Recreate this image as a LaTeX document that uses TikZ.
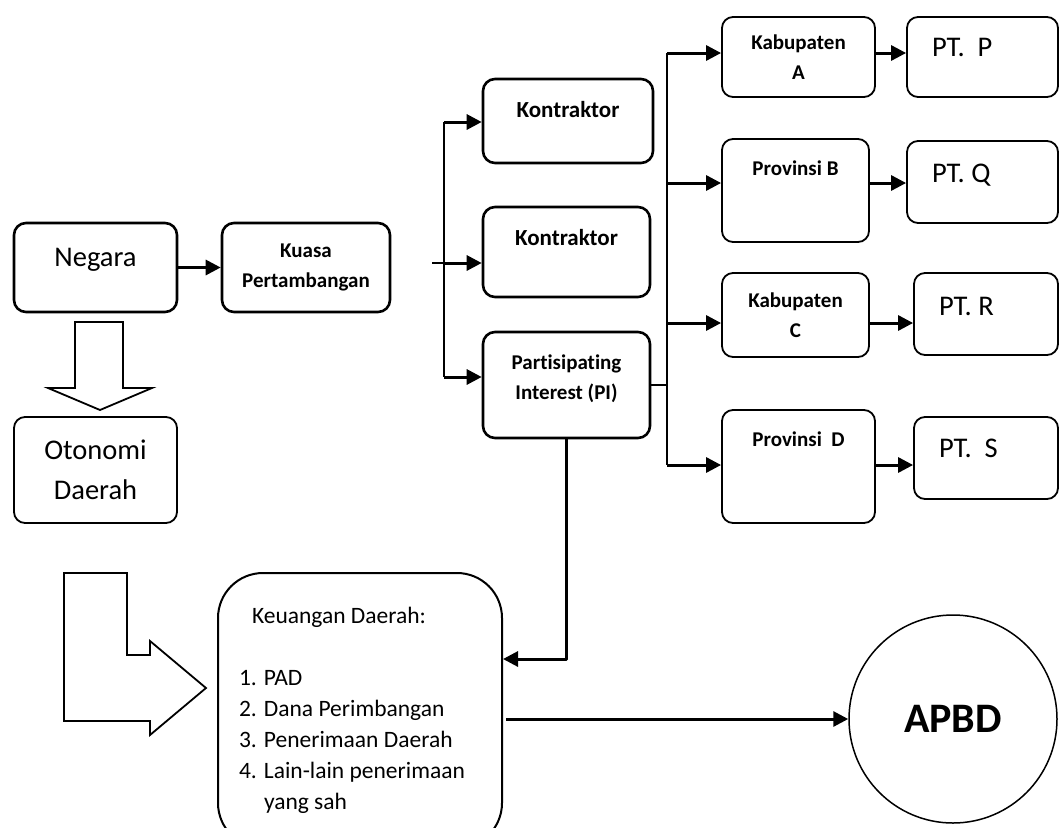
\documentclass[tikz,border=0pt]{standalone}
\usepackage{fontspec}
\setmainfont{Carlito}[Ligatures=NoCommon]
\usetikzlibrary{arrows.meta}

\begin{document}
\begin{tikzpicture}[x=1pt, y=-1pt, line join=round, >={Triangle[length=15pt,width=15pt]},
  boxA/.style={draw, rounded corners=12pt, line width=2.6pt, inner sep=0pt, align=center},
  boxB/.style={draw, rounded corners=11pt, line width=1.8pt, inner sep=0pt, align=center},
  ptbox/.style={boxB, inner xsep=25pt, align=flush left, font=\fontsize{28.5}{34}\selectfont, text height=18.4pt},
  regtext/.style={font=\fontsize{28.5}{40}\selectfont},
  boldtext/.style={font=\bfseries\fontsize{21}{30}\selectfont},
  arr/.style={->, line width=3pt},
  blk/.style={draw, fill=white, line width=1.8pt, line join=miter}]
\useasboundingbox (0,0) rectangle (1059,827);

\node[boxA, regtext, minimum width=163pt, minimum height=89pt, text height=18.4pt, text depth=21pt] (negara) at (95.5,267.5) {Negara};
\node[boxA, boldtext, minimum width=168pt, minimum height=89pt] (kuasa) at (306,267.5) {Kuasa\\Pertambangan};
\node[boxB, regtext, minimum width=163pt, minimum height=106pt] (otonomi) at (95.5,470) {Otonomi\\Daerah};

\node[boxA, font=\bfseries\fontsize{23}{30}\selectfont, minimum width=170pt, minimum height=84pt, text height=15pt, text depth=22pt] (kon1) at (568,121) {Kontraktor};
\node[boxA, font=\bfseries\fontsize{23}{30}\selectfont, minimum width=167pt, minimum height=90pt, text height=15pt, text depth=28pt] (kon2) at (566.5,252) {Kontraktor};
\node[boxA, boldtext, minimum width=167pt, minimum height=106pt] (pi) at (566.5,385) {Partisipating\\Interest (PI)\\[-14pt]};

\node[boxB, boldtext, minimum width=153pt, minimum height=80pt] (kaba) at (798.5,57) {Kabupaten\\A};
\node[boxB, boldtext, minimum width=147pt, minimum height=103pt, text height=13.5pt, text depth=44pt] (provb) at (795.5,190.5) {Provinsi B};
\node[boxB, boldtext, minimum width=147pt, minimum height=84pt] (kabc) at (795.5,315) {Kabupaten\\C};
\node[boxB, boldtext, minimum width=153pt, minimum height=113pt, text height=13.5pt, text depth=54pt] (provd) at (798.5,466.5) {Provinsi~~D};

\node[ptbox, text width=101pt, minimum height=80pt, text depth=20pt] (ptp) at (982.5,57) {PT.~~P};
\node[ptbox, text width=101pt, minimum height=82pt, text depth=18pt] (ptq) at (982.5,182) {PT.~Q};
\node[ptbox, text width=94pt, minimum height=82pt, text depth=16pt] (ptr) at (986,314) {PT.~R};
\node[ptbox, text width=94pt, minimum height=82pt, text depth=20pt] (pts) at (986,458) {PT.~~S};

\node[draw, rounded corners=45pt, line width=2pt, inner xsep=21pt, inner ysep=0pt, text width=242pt, align=flush left,
  minimum height=275pt, font=\fontsize{23.5}{31}\selectfont] (keu) at (360,710.5)
  {\hspace*{13pt}Keuangan Daerah:\\[31pt]
   1. PAD\\
   2. Dana Perimbangan\\
   3. Penerimaan Daerah\\
   4. Lain-lain penerimaan\\
   \hspace*{25pt}yang sah};
\node[draw, circle, line width=1.5pt, minimum size=208pt, font=\bfseries\fontsize{42}{50}\selectfont] (apbd) at (953,719) {APBD};

\coordinate (kin) at (432,263);
\coordinate (kmid) at (444,263);
\coordinate (ltop) at (444,122);
\coordinate (lbot) at (444,377);
\coordinate (rA) at (667,53);
\coordinate (rB) at (667,183);
\coordinate (rC) at (667,323);
\coordinate (rD) at (667,465);
\coordinate (rpi) at (667,385);

\draw[arr] (negara) -- (kuasa);
\draw[line width=1.6pt] (ltop) -- (lbot);
\draw[line width=1.6pt] (kin) -- (kmid);
\draw[arr] (ltop) -- (kon1.west |- ltop);
\draw[arr] (kmid) -- (kon2.west |- kmid);
\draw[arr] (lbot) -- (pi.west |- lbot);

\draw[line width=1.6pt] (pi.east |- rpi) -- (rpi);
\draw[line width=1.6pt] (rA) -- (rD);
\draw[arr] (rA) -- (kaba.west |- rA);
\draw[arr] (rB) -- (provb.west |- rB);
\draw[arr] (rC) -- (kabc.west |- rC);
\draw[arr] (rD) -- (provd.west |- rD);

\draw[arr] (kaba.east |- rA) -- (ptp.west |- rA);
\draw[arr] (provb.east |- rB) -- (ptq.west |- rB);
\draw[arr] (kabc.east |- rC) -- (ptr.west |- rC);
\draw[arr] (provd.east |- rD) -- (pts.west |- rD);

\draw[arr] (pi.south) |- ([yshift=51.5pt]keu.east);
\draw[arr] ([xshift=3pt]keu.east |- apbd) -- (apbd);

\draw[blk] (75,322) -- (123,322) -- (123,388) -- (152,388) -- (100,410) -- (48,388) -- (75,388) -- cycle;
\draw[blk] (64,573) -- (127,573) -- (127,655) -- (150,655) -- (150,641) -- (206,688) -- (150,735) -- (150,721) -- (64,721) -- cycle;
\end{tikzpicture}
\end{document}
